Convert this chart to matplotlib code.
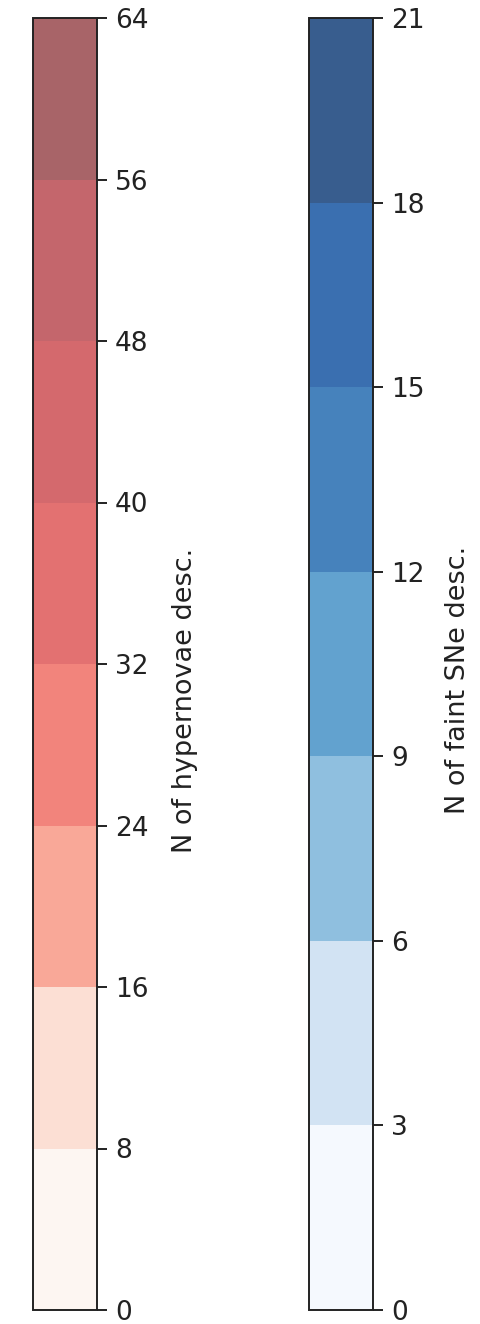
import matplotlib
matplotlib.use("Agg")
import matplotlib.pyplot as plt
import matplotlib as mpl
import numpy as np

red_bounds = [0, 8, 16, 24, 32, 40, 48, 56, 64]
red_colors = ["#fdf6f2", "#fcdfd4", "#f9a898", "#f2847c", "#e37171", "#d4696d", "#c4666c", "#a86468"]
red_label = "N of hypernovae desc."

blue_bounds = [0, 3, 6, 9, 12, 15, 18, 21]
blue_colors = ["#f5f9fe", "#d2e3f3", "#8fbfdf", "#62a2cf", "#4682bc", "#3a6fb0", "#385d8e"]
blue_label = "N of faint SNe desc."

fig = plt.figure(figsize=(4.8, 13.24), dpi=100)
H = 1324.0
W = 480.0
ax1 = fig.add_axes([33 / W, (H - 1310) / H, 64 / W, 1292 / H])
ax2 = fig.add_axes([309 / W, (H - 1310) / H, 64 / W, 1292 / H])

for ax, bounds, colors, label, ly, lp in [(ax1, red_bounds, red_colors, red_label, 0.472, 17),
                                           (ax2, blue_bounds, blue_colors, blue_label, 0.488, 15)]:
    cmap = mpl.colors.ListedColormap(colors)
    norm = mpl.colors.BoundaryNorm(bounds, cmap.N)
    cb = mpl.colorbar.ColorbarBase(ax, cmap=cmap, norm=norm, orientation="vertical",
                                   ticks=bounds)
    cb.ax.tick_params(labelsize=19, length=7, width=1.4, pad=6, colors="#222222")
    cb.set_label(label, fontsize=19.5, labelpad=lp, color="#222222")
    cb.ax.yaxis.label.set_y(ly)
    cb.outline.set_linewidth(1.4)
    cb.outline.set_edgecolor("#222222")

fig.savefig("out.png", dpi=100)
